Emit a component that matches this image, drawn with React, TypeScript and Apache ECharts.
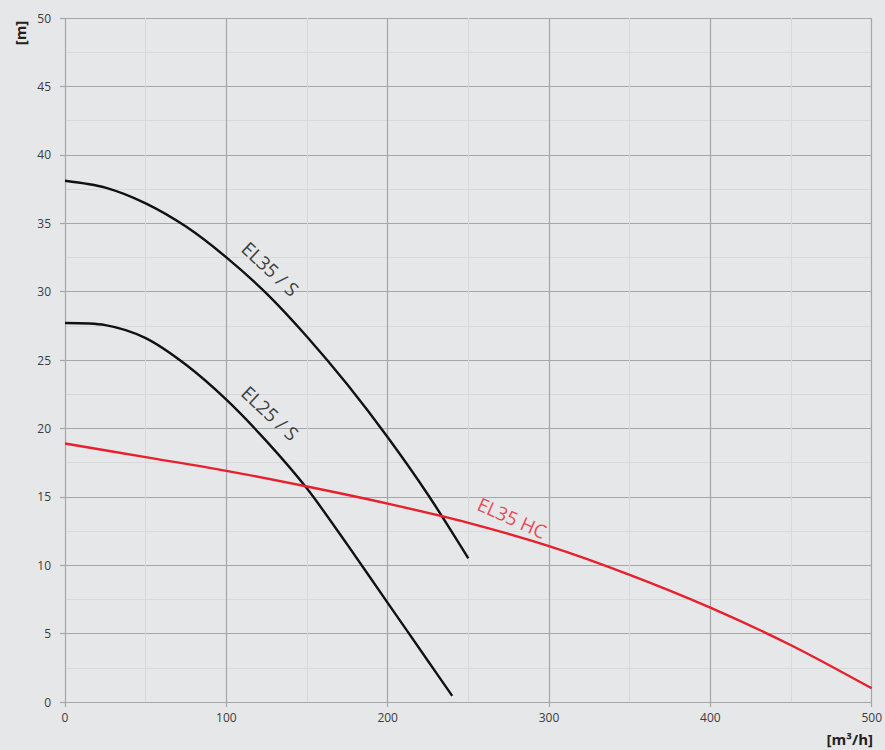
import React, { useEffect, useRef } from "react";
import * as echarts from "echarts";

const flowEL35S = [0, 25, 50, 75, 100, 125, 150, 175, 200, 225, 250];
const headEL35S = [38.1, 37.6, 36.45, 34.75, 32.5, 29.85, 26.7, 23.2, 19.35, 15.15, 10.5];

const flowEL25S = [0, 25, 50, 75, 100, 125, 150, 175, 200, 225, 240];
const headEL25S = [27.7, 27.55, 26.6, 24.65, 22.1, 19.05, 15.6, 11.5, 7.25, 3.0, 0.45];

const flowEL35HC = [0, 50, 100, 150, 200, 250, 300, 350, 400, 450, 500];
const headEL35HC = [18.9, 17.9, 16.9, 15.75, 14.5, 13.1, 11.4, 9.3, 6.9, 4.15, 1.0];

const labelNames = ["EL35 / S", "EL25 / S", "EL35 HC"];
const labelFlow = [127.2, 127, 277];
const labelHead = [31.65, 21.1, 13.45];
const labelAngle = [-43, -43, -24];
const labelColors = ["#111111", "#111111", "#e8202e"];

const xTicks = [0, 100, 200, 300, 400, 500];
const yTicks = [0, 5, 10, 15, 20, 25, 30, 35, 40, 45, 50];

const pair = (xs: number[], ys: number[]) => xs.map((x, i) => [x, ys[i]]);

export default function App() {
  const ref = useRef<HTMLDivElement>(null);
  useEffect(() => {
    if (!ref.current) return;
    const chart = echarts.init(ref.current, undefined, { renderer: "svg" });
    const font = "'Open Sans', 'Noto Sans', sans-serif";
    const axisCommon = {
      axisLine: { show: false },
      axisTick: { show: true, length: 5, lineStyle: { color: "#a6a6a6", width: 1.2 } },
      minorTick: { show: false, splitNumber: 2 },
      splitLine: { show: true, lineStyle: { color: "#a6a6a6", width: 1.2 } },
      minorSplitLine: { show: true, lineStyle: { color: "#d8d9db", width: 1 } },
      axisLabel: { color: "#3c3c3c", fontSize: 12, fontFamily: font },
    };
    const lineCommon = {
      type: "line",
      smooth: 0.3,
      showSymbol: false,
    };
    chart.setOption({
      animation: false,
      backgroundColor: "#e6e7e9",
      grid: { left: 65, right: 12, top: 18, bottom: 48, containLabel: false },
      xAxis: {
        type: "value",
        min: xTicks[0],
        max: xTicks[xTicks.length - 1],
        interval: 100,
        ...axisCommon,
        axisLabel: { ...axisCommon.axisLabel, margin: 9 },
      },
      yAxis: {
        type: "value",
        min: yTicks[0],
        max: yTicks[yTicks.length - 1],
        interval: 5,
        ...axisCommon,
        axisLabel: { ...axisCommon.axisLabel, margin: 14 },
      },
      graphic: [
        {
          type: "text",
          x: 20,
          y: 33,
          rotation: Math.PI / 2,
          style: {
            text: "[m]",
            font: `bold 15px ${font}`,
            fill: "#222",
            align: "center",
            verticalAlign: "middle",
          },
        },
        {
          type: "text",
          right: 12,
          top: 731,
          style: {
            text: "[m³/h]",
            font: `bold 15px ${font}`,
            fill: "#222",
          },
        },
      ],
      series: [
        {
          ...lineCommon,
          data: pair(flowEL35S, headEL35S),
          lineStyle: { color: "#111", width: 2.4 },
        },
        {
          ...lineCommon,
          data: pair(flowEL25S, headEL25S),
          lineStyle: { color: "#111", width: 2.4 },
        },
        {
          ...lineCommon,
          data: pair(flowEL35HC, headEL35HC),
          lineStyle: { color: "#e8202e", width: 2.4 },
        },
        {
          type: "scatter",
          symbolSize: 0,
          silent: true,
          data: labelNames.map((n, i) => ({
            value: [labelFlow[i], labelHead[i]],
            label: {
              show: true,
              formatter: n,
              position: "inside",
              rotate: labelAngle[i],
              color: labelColors[i],
              fontSize: 19,
              fontFamily: font,
            },
          })),
        },
      ],
    });
    return () => chart.dispose();
  }, []);
  return (
    <div
      ref={ref}
      style={{ position: "fixed", left: 0, top: 0, width: 885, height: 750 }}
    />
  );
}
